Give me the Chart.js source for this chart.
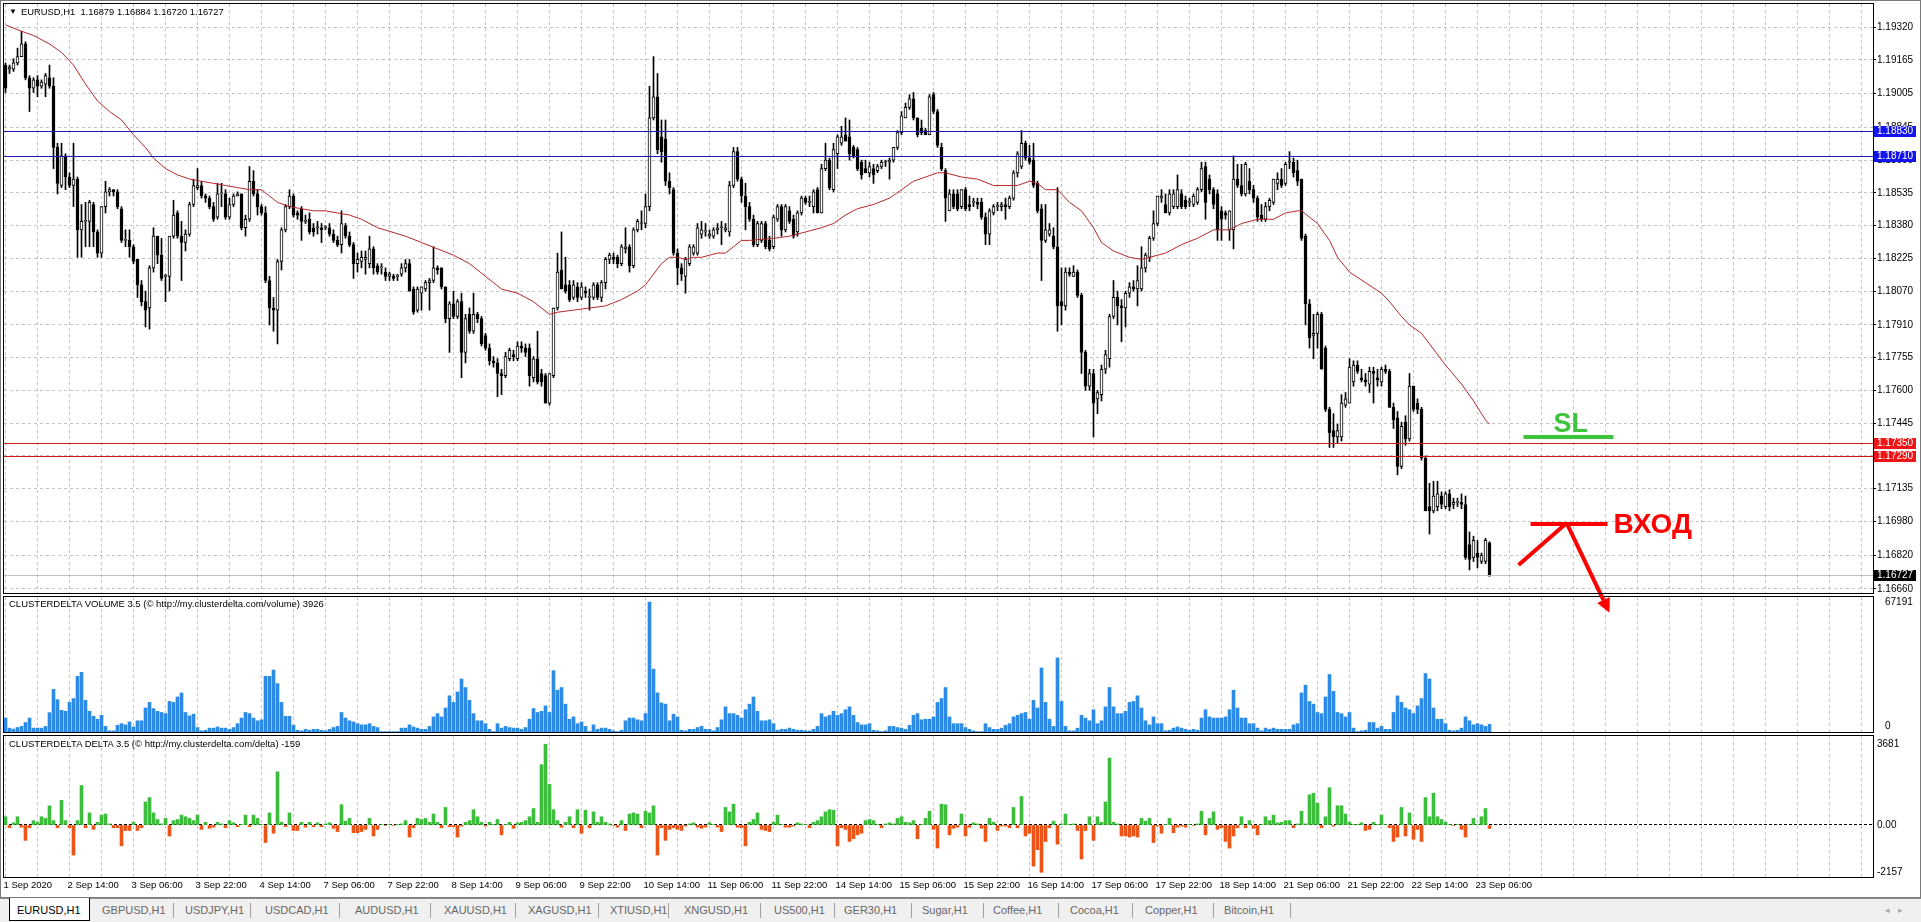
<!DOCTYPE html>
<html><head><meta charset="utf-8">
<script src="https://cdn.jsdelivr.net/npm/chart.js@4.4.1/dist/chart.umd.min.js"></script>
<style>
html,body{margin:0;padding:0;width:1921px;height:922px;overflow:hidden;background:#fff;font-family:'Liberation Sans',Arial,sans-serif;}
canvas{position:absolute;left:0;top:0;}
.t{position:absolute;white-space:pre;font-size:9.5px;line-height:12px;color:#000;z-index:5;}
#tabbar{position:absolute;left:0;top:898px;width:1921px;height:24px;background:#f0f0f0;border-top:1px solid #8c8c8c;z-index:4;}
.tab{position:absolute;top:5px;font-size:11px;line-height:13px;color:#666;white-space:pre;}
.sep{position:absolute;top:4px;width:1px;height:15px;background:#a0a0a0;}
#active{position:absolute;left:9px;top:-1px;width:79px;height:22px;background:#fff;border:1px solid #000;border-top:none;}
#frame{position:absolute;left:0;top:0;width:1919px;height:896px;border:1px solid #7a7a7a;z-index:6;pointer-events:none;}
</style></head><body>
<canvas id="cVol" width="1921" height="922"></canvas>
<canvas id="cDelta" width="1921" height="922"></canvas>
<canvas id="cMain" width="1921" height="922"></canvas>
<div class="t" style="left:9px;top:6px;font-size:8px;">▼</div>
<div class="t" id="hdr" style="left:21px;top:6px;font-size:9.4px;"></div>
<div class="t" id="volLbl" style="left:9px;top:598px;"></div>
<div class="t" id="dltLbl" style="left:9px;top:738px;"></div>
<div id="frame"></div>
<div id="tabbar"><div id="active"></div></div>
<script>
// ---------------- DATA ----------------
const priceTicks = [1.19320,1.19165,1.19005,1.18845,1.18690,1.18535,1.18380,1.18225,1.18070,1.17910,1.17755,1.17600,1.17445,1.17290,1.17135,1.16980,1.16820,1.16660];
const timeLabels = ['1 Sep 2020','2 Sep 14:00','3 Sep 06:00','3 Sep 22:00','4 Sep 14:00','7 Sep 06:00','7 Sep 22:00','8 Sep 14:00','9 Sep 06:00','9 Sep 22:00','10 Sep 14:00','11 Sep 06:00','11 Sep 22:00','14 Sep 14:00','15 Sep 06:00','15 Sep 22:00','16 Sep 14:00','17 Sep 06:00','17 Sep 22:00','18 Sep 14:00','21 Sep 06:00','21 Sep 22:00','22 Sep 14:00','23 Sep 06:00'];
const timeLabelBars = [0,16,32,48,64,80,96,112,128,144,160,176,192,208,224,240,256,272,288,304,320,336,352,368];

const opens = [1.1914,1.1912,1.1912,1.1915,1.1918,1.1924,1.1908,1.1903,1.1907,1.1904,
1.1905,1.1908,1.1904,1.1875,1.1857,1.1871,1.1861,1.1857,1.1860,1.1836,
1.1840,1.1840,1.1848,1.1835,1.1825,1.1847,1.1854,1.1855,1.1854,1.1846,
1.1831,1.1831,1.1828,1.1822,1.1810,1.1802,1.1799,1.1818,1.1833,1.1824,
1.1814,1.1814,1.1833,1.1844,1.1833,1.1830,1.1834,1.1848,1.1856,1.1857,
1.1852,1.1851,1.1847,1.1842,1.1853,1.1853,1.1842,1.1848,1.1852,1.1853,
1.1837,1.1841,1.1859,1.1853,1.1847,1.1844,1.1812,1.1799,1.1798,1.1821,
1.1836,1.1847,1.1852,1.1844,1.1846,1.1840,1.1841,1.1837,1.1837,1.1837,
1.1837,1.1837,1.1834,1.1831,1.1829,1.1838,1.1833,1.1829,1.1820,1.1821,
1.1822,1.1820,1.1827,1.1819,
1.1818,1.1816,1.1814,1.1814,1.1814,1.1815,1.1818,1.1820,1.1808,1.1798,
1.1806,1.1808,1.1811,1.1812,1.1818,1.1818,1.1809,1.1794,1.1801,1.1795,
1.1802,1.1778,1.1796,1.1788,1.1796,1.1794,1.1786,1.1780,1.1774,1.1773,
1.1768,1.1767,1.1775,1.1777,1.1775,1.1781,1.1780,1.1780,1.1766,1.1775,
1.1768,1.1767,1.1754,1.1767,1.1799,1.1817,1.1810,1.1810,1.1804,1.1809,
1.1804,1.1807,1.1804,1.1804,1.1810,1.1804,1.1811,1.1822,1.1823,1.1823,
1.1820,1.1827,1.1828,1.1819,1.1836,1.1839,1.1839,1.1847,1.1889,1.1899,
1.1880,1.1879,1.1859,1.1855,1.1825,1.1818,1.1814,1.1820,1.1825,1.1825,
1.1834,1.1835,1.1833,1.1833,1.1836,1.1837,1.1836,1.1835,1.1857,1.1873,
1.1860,1.1852,1.1847,
1.1841,1.1829,1.1831,1.1839,1.1831,1.1828,1.1841,1.1847,1.1836,1.1845,
1.1841,1.1835,1.1844,1.1851,1.1849,1.1847,1.1855,1.1844,1.1865,1.1869,
1.1855,1.1872,1.1877,1.1881,1.1880,1.1875,1.1874,1.1868,1.1865,1.1863,
1.1865,1.1864,1.1866,1.1868,1.1868,1.1869,1.1875,1.1882,1.1889,1.1894,
1.1898,1.1889,1.1884,1.1883,1.1881,1.1900,1.1892,1.1875,1.1864,1.1845,
1.1853,1.1853,1.1847,1.1855,1.1848,1.1849,1.1849,1.1849,1.1842,1.1834,
1.1844,1.1847,1.1847,1.1848,1.1847,1.1851,1.1863,1.1866,1.1877,1.1870,
1.1869,1.1858,1.1846,1.1831,1.1834,1.1833,1.1828,1.1802,1.1800,1.1816,
1.1814,1.1816,1.1805,1.1778,1.1762,1.1768,1.1756,1.1758,1.1770,1.1775,
1.1795,1.1804,
1.1800,1.1799,1.1806,1.1809,1.1808,1.1808,1.1818,1.1823,1.1832,1.1839,
1.1851,1.1848,1.1844,1.1847,1.1847,1.1853,1.1850,1.1849,1.1848,1.1849,
1.1855,1.1866,1.1860,1.1855,1.1853,1.1845,1.1844,1.1836,1.1836,1.1860,
1.1857,1.1853,1.1859,1.1855,1.1851,1.1843,1.1841,1.1847,1.1849,1.1858,
1.1860,1.1858,1.1868,1.1868,1.1864,1.1860,1.1833,1.1801,1.1786,1.1787,
1.1796,1.1780,1.1751,1.1741,1.1738,1.1738,1.1753,1.1754,1.1764,1.1772,
1.1766,1.1765,1.1763,1.1769,1.1766,1.1764,1.1770,1.1769,1.1752,1.1747,
1.1724,1.1745,1.1737,1.1762,1.1754,1.1751,1.1728,1.1705,1.1703,1.1705,
1.1710,1.1705,1.1711,1.1706,1.1707,1.1707,1.1706,1.1687,1.1681,1.1683,
1.1679,1.1679,1.16879];

const highs = [1.1915,1.1914,1.1917,1.1922,1.1930,1.1925,1.1909,1.1908,1.1909,1.1907,
1.1910,1.1914,1.1908,1.1877,1.1877,1.1872,1.1863,1.1877,1.1861,1.1848,
1.1849,1.1850,1.1849,1.1836,1.1847,1.1859,1.1856,1.1855,1.1855,1.1847,
1.1836,1.1836,1.1829,1.1822,1.1812,1.1807,1.1819,1.1837,1.1833,1.1832,
1.1815,1.1833,1.1850,1.1845,1.1840,1.1836,1.1849,1.1860,1.1865,1.1859,
1.1853,1.1852,1.1849,1.1858,1.1858,1.1855,1.1851,1.1853,1.1854,1.1853,
1.1843,1.1866,1.1864,1.1855,1.1848,1.1847,1.1814,1.1804,1.1822,1.1837,
1.1848,1.1855,1.1853,1.1845,1.1847,1.1843,1.1844,1.1839,1.1840,1.1839,
1.1838,1.1839,1.1836,1.1833,1.1845,1.1839,1.1835,1.1830,1.1825,1.1826,
1.1826,1.1833,1.1828,1.1820,
1.1820,1.1818,1.1816,1.1815,1.1815,1.1820,1.1822,1.1822,1.1809,1.1809,
1.1809,1.1812,1.1813,1.1828,1.1819,1.1818,1.1809,1.1802,1.1807,1.1803,
1.1806,1.1796,1.1799,1.1806,1.1797,1.1795,1.1787,1.1782,1.1776,1.1775,
1.1770,1.1778,1.1780,1.1779,1.1783,1.1783,1.1782,1.1782,1.1776,1.1788,
1.1770,1.1768,1.1768,1.1799,1.1825,1.1835,1.1823,1.1812,1.1812,1.1811,
1.1811,1.1809,1.1808,1.1811,1.1811,1.1812,1.1823,1.1825,1.1825,1.1824,
1.1829,1.1837,1.1829,1.1837,1.1841,1.1845,1.1853,1.1904,1.1918,1.1910,
1.1888,1.1888,1.1863,1.1856,1.1827,1.1820,1.1823,1.1829,1.1829,1.1839,
1.1840,1.1839,1.1836,1.1837,1.1839,1.1840,1.1839,1.1859,1.1875,1.1875,
1.1861,1.1858,1.1849,
1.1843,1.1840,1.1840,1.1840,1.1833,1.1843,1.1848,1.1848,1.1848,1.1847,
1.1843,1.1845,1.1852,1.1852,1.1852,1.1855,1.1856,1.1867,1.1877,1.1870,
1.1877,1.1881,1.1885,1.1889,1.1888,1.1876,1.1875,1.1869,1.1869,1.1868,
1.1867,1.1867,1.1869,1.1869,1.1870,1.1875,1.1883,1.1892,1.1896,1.1900,
1.1901,1.1889,1.1888,1.1884,1.1900,1.1901,1.1893,1.1877,1.1865,1.1855,
1.1855,1.1855,1.1855,1.1856,1.1852,1.1851,1.1851,1.1851,1.1844,1.1846,
1.1848,1.1849,1.1849,1.1851,1.1852,1.1864,1.1873,1.1883,1.1878,1.1876,
1.1877,1.1859,1.1848,1.1848,1.1839,1.1837,1.1856,1.1818,1.1818,1.1818,
1.1819,1.1817,1.1806,1.1779,1.1770,1.1770,1.1760,1.1772,1.1779,1.1796,
1.1812,1.1807,
1.1803,1.1807,1.1811,1.1812,1.1819,1.1828,1.1825,1.1833,1.1845,1.1852,
1.1855,1.1853,1.1855,1.1855,1.1862,1.1855,1.1852,1.1851,1.1853,1.1856,
1.1868,1.1868,1.1862,1.1856,1.1855,1.1847,1.1845,1.1845,1.1871,1.1867,
1.1867,1.1868,1.1865,1.1857,1.1852,1.1848,1.1849,1.1851,1.1860,1.1863,
1.1865,1.1868,1.1873,1.1870,1.1869,1.1860,1.1834,1.1803,1.1796,1.1797,
1.1797,1.1781,1.1752,1.1749,1.1744,1.1758,1.1759,1.1775,1.1774,1.1774,
1.1770,1.1768,1.1771,1.1771,1.1770,1.1771,1.1772,1.1770,1.1754,1.1750,
1.1745,1.1748,1.1768,1.1762,1.1756,1.1752,1.1729,1.1716,1.1717,1.1717,
1.1712,1.1712,1.1713,1.1709,1.1709,1.1711,1.1710,1.1693,1.1691,1.1689,
1.1683,1.1690,1.16884];

const lows = [1.1901,1.1910,1.1911,1.1914,1.1918,1.1907,1.1892,1.1901,1.1899,1.1903,
1.1899,1.1903,1.1865,1.1853,1.1856,1.1855,1.1856,1.1847,1.1823,1.1823,
1.1828,1.1828,1.1828,1.1823,1.1823,1.1844,1.1852,1.1852,1.1846,1.1830,
1.1828,1.1823,1.1820,1.1804,1.1800,1.1790,1.1789,1.1816,1.1820,1.1812,
1.1802,1.1807,1.1832,1.1832,1.1812,1.1826,1.1833,1.1847,1.1855,1.1851,
1.1849,1.1846,1.1840,1.1841,1.1847,1.1841,1.1841,1.1847,1.1852,1.1836,
1.1833,1.1840,1.1852,1.1843,1.1843,1.1811,1.1791,1.1788,1.1782,1.1817,
1.1835,1.1846,1.1842,1.1841,1.1831,1.1839,1.1834,1.1833,1.1834,1.1830,
1.1836,1.1833,1.1830,1.1828,1.1825,1.1832,1.1828,1.1813,1.1816,1.1818,
1.1815,1.1818,1.1815,1.1815,
1.1815,1.1812,1.1812,1.1812,1.1812,1.1814,1.1816,1.1807,1.1796,1.1797,
1.1798,1.1807,1.1798,1.1811,1.1815,1.1808,1.1792,1.1778,1.1794,1.1794,
1.1766,1.1773,1.1787,1.1787,1.1792,1.1781,1.1779,1.1772,1.1771,1.1757,
1.1758,1.1766,1.1774,1.1774,1.1774,1.1778,1.1776,1.1762,1.1764,1.1763,
1.1762,1.1754,1.1753,1.1766,1.1798,1.1808,1.1806,1.1802,1.1803,1.1802,
1.1803,1.1804,1.1798,1.1803,1.1803,1.1802,1.1808,1.1820,1.1820,1.1818,
1.1819,1.1825,1.1816,1.1818,1.1835,1.1836,1.1837,1.1845,1.1888,1.1872,
1.1868,1.1857,1.1853,1.1824,1.1810,1.1812,1.1806,1.1819,1.1824,1.1824,
1.1832,1.1833,1.1832,1.1832,1.1834,1.1829,1.1835,1.1833,1.1856,1.1859,
1.1849,1.1836,1.1840,
1.1828,1.1828,1.1830,1.1827,1.1826,1.1827,1.1840,1.1833,1.1835,1.1839,
1.1832,1.1833,1.1843,1.1848,1.1847,1.1844,1.1844,1.1844,1.1864,1.1855,
1.1854,1.1865,1.1876,1.1878,1.1869,1.1870,1.1864,1.1860,1.1863,1.1861,
1.1858,1.1863,1.1865,1.1866,1.1860,1.1868,1.1874,1.1881,1.1889,1.1893,
1.1888,1.1880,1.1881,1.1881,1.1881,1.1891,1.1875,1.1864,1.1840,1.1845,
1.1846,1.1845,1.1846,1.1845,1.1845,1.1847,1.1846,1.1841,1.1829,1.1829,
1.1843,1.1845,1.1845,1.1841,1.1846,1.1850,1.1861,1.1865,1.1869,1.1867,
1.1856,1.1844,1.1812,1.1830,1.1833,1.1827,1.1788,1.1791,1.1798,1.1814,
1.1814,1.1804,1.1768,1.1760,1.1760,1.1738,1.1749,1.1755,1.1768,1.1771,
1.1794,1.1791,
1.1783,1.1790,1.1804,1.1807,1.1800,1.1807,1.1816,1.1821,1.1831,1.1838,
1.1849,1.1844,1.1843,1.1846,1.1846,1.1846,1.1846,1.1847,1.1847,1.1848,
1.1854,1.1841,1.1853,1.1846,1.1831,1.1831,1.1841,1.1831,1.1827,1.1856,
1.1852,1.1852,1.1853,1.1849,1.1840,1.1840,1.1840,1.1845,1.1848,1.1855,
1.1856,1.1857,1.1865,1.1861,1.1857,1.1831,1.1791,1.1780,1.1775,1.1780,
1.1770,1.1750,1.1733,1.1733,1.1735,1.1736,1.1752,1.1754,1.1762,1.1768,
1.1764,1.1762,1.1759,1.1754,1.1762,1.1762,1.1768,1.1752,1.1742,1.1720,
1.1723,1.1734,1.1736,1.1750,1.1749,1.1727,1.1703,1.1692,1.1702,1.1703,
1.1704,1.1704,1.1703,1.1704,1.1705,1.1704,1.1680,1.1675,1.1679,1.1676,
1.1678,1.1678,1.16720];

const closes = [1.1903,1.1913,1.1915,1.1918,1.1924,1.1908,1.1903,1.1907,1.1904,1.1906,
1.1909,1.1904,1.1875,1.1858,1.1871,1.1861,1.1857,1.1860,1.1836,1.1840,
1.1840,1.1849,1.1835,1.1825,1.1847,1.1854,1.1855,1.1854,1.1847,1.1831,
1.1831,1.1828,1.1821,1.1810,1.1802,1.1798,1.1818,1.1833,1.1824,1.1813,
1.1814,1.1833,1.1843,1.1833,1.1830,1.1834,1.1848,1.1857,1.1857,1.1852,
1.1851,1.1847,1.1841,1.1853,1.1853,1.1842,1.1848,1.1852,1.1853,1.1837,
1.1841,1.1859,1.1853,1.1847,1.1844,1.1812,1.1799,1.1798,1.1821,1.1836,
1.1847,1.1852,1.1843,1.1843,1.1840,1.1840,1.1835,1.1835,1.1837,1.1836,
1.1837,1.1834,1.1831,1.1829,1.1839,1.1833,1.1829,1.1820,1.1822,1.1823,
1.1823,1.1827,1.1818,1.1816,
1.1818,1.1814,1.1815,1.1813,1.1814,1.1818,1.1820,1.1807,1.1797,1.1808,
1.1809,1.1811,1.1812,1.1818,1.1817,1.1809,1.1794,1.1801,1.1795,1.1802,
1.1778,1.1794,1.1788,1.1796,1.1794,1.1782,1.1780,1.1774,1.1773,1.1768,
1.1767,1.1776,1.1779,1.1776,1.1781,1.1780,1.1778,1.1767,1.1775,1.1764,
1.1764,1.1754,1.1768,1.1799,1.1816,1.1808,1.1807,1.1803,1.1810,1.1804,
1.1809,1.1806,1.1804,1.1810,1.1804,1.1811,1.1822,1.1824,1.1822,1.1820,
1.1828,1.1828,1.1819,1.1836,1.1840,1.1839,1.1847,1.1889,1.1899,1.1874,
1.1873,1.1859,1.1856,1.1825,1.1818,1.1815,1.1822,1.1828,1.1828,1.1837,
1.1836,1.1835,1.1834,1.1836,1.1837,1.1837,1.1837,1.1857,1.1873,1.1860,
1.1852,1.1847,1.1841,
1.1829,1.1839,1.1839,1.1828,1.1827,1.1842,1.1847,1.1836,1.1847,1.1840,
1.1833,1.1844,1.1851,1.1849,1.1849,1.1854,1.1844,1.1865,1.1869,1.1856,
1.1874,1.1880,1.1880,1.1878,1.1872,1.1871,1.1865,1.1862,1.1863,1.1866,
1.1862,1.1866,1.1868,1.1868,1.1869,1.1875,1.1882,1.1890,1.1894,1.1898,
1.1889,1.1881,1.1882,1.1881,1.1899,1.1892,1.1876,1.1865,1.1851,1.1853,
1.1847,1.1846,1.1855,1.1846,1.1847,1.1849,1.1848,1.1842,1.1834,1.1845,
1.1847,1.1847,1.1848,1.1847,1.1851,1.1863,1.1872,1.1877,1.1870,1.1868,
1.1857,1.1845,1.1831,1.1836,1.1836,1.1828,1.1800,1.1800,1.1816,1.1815,
1.1816,1.1805,1.1778,1.1762,1.1768,1.1754,1.1759,1.1770,1.1777,1.1795,
1.1804,1.1800,
1.1799,1.1806,1.1809,1.1808,1.1812,1.1818,1.1824,1.1832,1.1839,1.1852,
1.1852,1.1844,1.1853,1.1853,1.1855,1.1847,1.1847,1.1849,1.1852,1.1855,
1.1865,1.1849,1.1855,1.1848,1.1836,1.1841,1.1843,1.1845,1.1860,1.1857,
1.1853,1.1867,1.1855,1.1851,1.1842,1.1841,1.1847,1.1850,1.1860,1.1860,
1.1857,1.1867,1.1868,1.1863,1.1859,1.1832,1.1801,1.1785,1.1787,1.1796,
1.1770,1.1751,1.1740,1.1738,1.1741,1.1754,1.1756,1.1771,1.1772,1.1769,
1.1765,1.1764,1.1769,1.1768,1.1765,1.1770,1.1769,1.1752,1.1746,1.1724,
1.1743,1.1737,1.1762,1.1751,1.1751,1.1728,1.1703,1.1703,1.1710,1.1711,
1.1706,1.1711,1.1705,1.1707,1.1707,1.1706,1.1681,1.1680,1.1689,1.1681,
1.1682,1.1689,1.16727];

const maBars = [0,4,7,11,14,17,20,23,26,29,32,35,37,40,43,46,49,52,55,58,61,64,66,68,71,74,77,80,83,86,89,93,
100,104,108,112,116,120,124,128,132,136,138,142,146,150,154,158,160,162,164,166,168,170,172,174,178,180,182,184,186,
192,196,200,204,207,210,213,217,221,224,227,230,233,235,239,243,247,250,253,256,258,260,263,266,269,272,274,277,
281,284,286,290,294,298,302,306,309,313,317,320,323,324,328,331,333,336,340,344,346,349,351,354,356,360,364,367,370,371];
const maValues = [1.1933,1.1930,1.1928,1.1924,1.1920,1.1914,1.1905,1.1897,1.1892,1.1888,1.1881,1.1875,1.1870,1.1865,1.1862,1.1860,1.1859,1.1858,1.1857,1.1856,1.1855,1.1855,1.1852,1.1849,1.1847,1.1846,1.1845,1.1845,1.1844,1.1843,1.1841,1.1837,
1.1833,1.1830,1.1827,1.1824,1.1820,1.1814,1.1808,1.1806,1.1802,1.1796,1.1797,1.1798,1.1799,1.1800,1.1803,1.1807,1.1810,1.1815,1.1820,1.1823,1.1823,1.1822,1.1823,1.1823,1.1825,1.1825,1.1828,1.1831,1.1831,
1.1832,1.1833,1.1835,1.1837,1.1839,1.1843,1.1846,1.1848,1.1851,1.1855,1.1859,1.1861,1.1863,1.1863,1.1861,1.1860,1.1857,1.1857,1.1857,1.1859,1.1858,1.1855,1.1855,1.1849,1.1845,1.1837,1.1830,1.1826,
1.1823,1.1822,1.1823,1.1825,1.1829,1.1832,1.1836,1.1836,1.1839,1.1841,1.1841,1.1844,1.1845,1.1845,1.1839,1.1831,1.1823,1.1816,1.1811,1.1806,1.1802,1.1795,1.1791,1.1787,1.1782,1.1772,1.1763,1.1755,1.1746,1.1744];

const volumes = [7200,2000,1500,2300,2900,4900,7200,2000,2000,2000,
2900,10000,22000,16700,11200,10700,15300,17300,28800,30800,
16400,10700,8100,6600,8600,2900,600,600,3500,4300,
3700,5200,2600,5800,5800,12400,15300,12100,10700,10100,
9500,15800,15300,18100,20200,10100,8400,9200,2300,600,
900,2000,2000,2600,2000,2000,1400,2300,4300,7200,
10100,9500,7200,5800,6300,28800,28800,32000,25000,15300,
8100,8100,3500,900,600,1400,900,1400,1400,900,
600,1400,2300,2900,10100,7200,5800,5200,4300,3700,
3700,4300,2900,2300,
200,200,200,200,200,2000,
2000,3700,2600,2000,1400,1400,2900,7800,9500,7800,
12400,18700,15300,20700,27400,23000,16400,9500,5800,5800,
4300,1400,200,4300,2000,2900,2300,2000,2000,1400,
2300,6600,12100,10100,10700,13500,10100,31700,21600,23000,
14400,6600,7800,4300,5200,2900,200,3700,1400,2000,
2000,1400,600,200,900,5800,7200,7200,6300,5800,
9500,67191,32500,20200,15000,14400,5800,9200,7800,900,
600,1400,1400,2300,2900,1400,1400,600,2300,6300,
13000,9500,9500,8600,7200,11500,14400,
18100,10700,5800,5800,6300,4300,900,1400,1400,2000,1400,900,900,
600,600,1400,2900,9500,7800,8600,10700,8600,9500,
11500,13000,8600,4900,3700,3700,4300,900,600,200,
600,2900,2900,2300,2000,1400,3500,8600,9500,6300,
6600,6600,7800,15300,17300,23000,7800,4300,4300,4300,
2300,1400,600,200,200,4300,2300,1400,1400,2000,
3500,4300,7800,8600,9500,10100,6600,16400,12400,33100,
15300,6600,2900,38300,15800,2900,600,600,2000,8600,
7200,5800,11500,4300,5800,13000,23000,13000,9500,
9500,10700,15300,15800,18700,12400,5800,3700,7800,4300,4300,
600,900,2000,2600,2000,1400,900,1400,900,7200,
11500,7800,7200,7200,7200,7800,11500,21600,12400,7200,
7200,4300,4300,2000,600,2000,1400,2000,1400,1400,
1400,1400,3700,4300,20200,24200,15800,14400,10100,9500,
18100,29700,21000,10100,9500,7800,10100,2000,200,600,
900,4900,4900,2000,2900,1400,1400,10100,18700,15300,
12400,11500,9500,13500,17300,30200,27400,12400,6600,6600,
4300,900,600,900,2000,7800,5800,3700,4300,3700,2900,3926];

const deltas = [375,-125,100,375,-100,-700,-125,200,125,375,
300,875,200,-125,1125,200,-125,-1375,200,1800,
-125,550,-200,125,450,500,50,-125,-125,-950,
-250,-250,125,-250,-125,1050,1250,550,250,50,
300,-500,200,250,450,375,300,200,450,-200,
125,-150,-100,125,50,-125,200,100,-75,30,
450,-75,450,300,30,-800,550,-375,2425,125,
-75,550,-250,-250,125,-100,125,-75,100,-75,
50,100,-150,-300,925,175,300,-350,-350,-300,
-200,300,-500,-200,
25,-25,25,-25,25,50,
200,-550,-125,300,250,300,125,500,125,-125,
800,-75,-75,-550,-50,125,200,700,375,125,
-50,125,25,250,-450,25,125,-150,100,125,
200,375,750,125,2750,3681,1850,700,200,-100,
125,375,-125,700,-375,675,-125,600,125,375,
125,50,-25,-100,200,-250,500,550,500,-125,
625,550,875,-1375,-125,-700,-200,-125,-200,-250,
-50,50,100,-100,-150,-100,100,25,-100,-300,
800,600,950,-100,-125,-950,125,
250,550,-200,-250,-300,125,450,25,-100,-100,-50,100,50,
25,-125,125,200,375,600,700,675,-950,-125,
-200,-750,-625,-450,-375,200,250,200,25,-125,
50,100,50,300,375,125,100,200,-625,25,
300,625,-200,-1050,950,925,-450,-150,-100,500,
-500,-100,100,50,-150,-750,300,125,-250,-50,
-50,-125,800,-125,1300,-500,-375,-1875,-1125,-2157,
-750,-125,175,-875,50,500,25,50,-250,-1550,
-250,375,-700,375,125,1050,3050,125,50,
-500,-500,-550,-500,-550,300,175,300,-800,-50,-375,
25,300,-350,-100,-50,-100,25,-25,50,625,
-450,300,600,-200,-125,-750,-1050,-500,-125,375,
-125,200,-150,-450,25,375,200,450,100,125,
200,200,-125,50,625,50,1375,1450,1000,-125,
375,1700,-50,875,875,500,125,25,25,100,
-250,-200,125,25,450,25,-125,-750,-550,800,
-500,550,-650,-200,-750,1250,375,1450,375,250,
125,25,-25,25,-200,-550,25,300,25,375,750,-159];

const levels = [
  {price: 1.18830, line: '#1c1cb4', box: '#1414f0', text: '#fff'},
  {price: 1.18710, line: '#1c1cb4', box: '#1414f0', text: '#fff'},
  {price: 1.17350, line: '#d01818', box: '#f01414', text: '#fff'},
  {price: 1.17290, line: '#d01818', box: '#f01414', text: '#fff'},
  {price: 1.16727, line: '#c0c0c0', box: '#000000', text: '#fff'}
];
const volumeTicks = [67191, 0];
const deltaTicks = [3681, 0, -2157];
const headerText = 'EURUSD,H1  1.16879 1.16884 1.16720 1.16727';
const volumeTitle = 'CLUSTERDELTA VOLUME 3.5 (\u00a9 http://my.clusterdelta.com/volume) 3926';
const deltaTitle = 'CLUSTERDELTA DELTA 3.5 (\u00a9 http://my.clusterdelta.com/delta) -159';
const tabNames = ['EURUSD,H1','GBPUSD,H1','USDJPY,H1','USDCAD,H1','AUDUSD,H1','XAUUSD,H1','XAGUSD,H1','XTIUSD,H1','XNGUSD,H1','US500,H1','GER30,H1','Sugar,H1','Coffee,H1','Cocoa,H1','Copper,H1','Bitcoin,H1'];

// drawn objects on the chart (bar index, price)
const drawings = {
  slLine: {from: 379.5, to: 402, price: 1.17379},
  slText: {bar: 391.3, price: 1.17436, text: 'SL'},
  entryLeg: [[378.25, 1.16774], [390, 1.16968]],
  entryLine: {from: 381.25, to: 400.5, price: 1.16968},
  arrow: {from: [390.5, 1.16963], to: [401, 1.16548]},
  entryText: {bar: 402, price: 1.16968, text: 'ВХОД'}
};

// ---------------- LAYOUT / STYLE ----------------
const FONT = "'Liberation Sans', Arial, sans-serif";
const GRID = '#c4c4c4';
const X_MIN = -0.375, X_MAX = 466.875;
const AXIS_W = 48;
const gridBars = []; for (let b = 0; b <= X_MAX; b += 8) gridBars.push(b);
const bars = opens.map((_, i) => i);

document.getElementById('hdr').textContent = headerText;
document.getElementById('volLbl').textContent = volumeTitle;
document.getElementById('dltLbl').textContent = deltaTitle;
(function(){
  const tb = document.getElementById('tabbar');
  const tabX = [17,102,185,265,355,444,528,610,684,774,844,922,993,1070,1145,1224];
  const sepX = [173,250,339,430,515,598,668,760,834,911,983,1058,1132,1213,1290];
  tabNames.forEach((n,k)=>{const d=document.createElement('div');d.className='tab';d.style.left=tabX[k]+'px';d.textContent=n;if(k===0)d.style.color='#000';tb.appendChild(d);});
  sepX.forEach(x=>{const d=document.createElement('div');d.className='sep';d.style.left=x+'px';tb.appendChild(d);});
  const a=document.createElement('div');a.className='tab';a.style.left='1885px';a.style.color='#a8a8a8';a.style.fontSize='9px';a.textContent='\u25C2   \u25B8';tb.appendChild(a);
})();

function zeroPad(s){ s.paddingLeft = 0; s.paddingRight = 0; s.paddingTop = 0; s.paddingBottom = 0; }

function xAxis(height, labels) {
  return {
    type: 'linear', min: X_MIN, max: X_MAX, offset: false,
    afterBuildTicks: s => { s.ticks = gridBars.map(v => ({value: v})); },
    afterFit: s => { s.height = height; zeroPad(s); },
    grid: {color: GRID, drawTicks: false, offset: false, lineWidth: 1},
    border: {display: false, dash: [3, 3]},
    ticks: labels ? {
      display: true, autoSkip: false, maxRotation: 0, minRotation: 0, align: 'start',
      padding: 3, labelOffset: -2, color: '#000', font: {family: FONT, size: 9.5},
      callback: v => { const k = timeLabelBars.indexOf(v); return k >= 0 ? timeLabels[k] : ''; }
    } : {display: false}
  };
}

const boxPlugin = {
  id: 'panelBox',
  afterDraw(chart) {
    const a = chart.chartArea, c = chart.ctx;
    c.save(); c.strokeStyle = '#000'; c.lineWidth = 1;
    c.strokeRect(a.left - 0.5, a.top - 0.5, a.right - a.left + 1, a.bottom - a.top + 1);
    c.restore();
  }
};

const levelPlugin = {
  id: 'levels',
  afterDatasetsDraw(chart) {
    const c = chart.ctx, a = chart.chartArea, y = chart.scales.y;
    c.save(); c.lineWidth = 1;
    levels.forEach(l => {
      const py = Math.round(y.getPixelForValue(l.price)) + 0.5;
      c.strokeStyle = l.line; c.beginPath(); c.moveTo(a.left, py); c.lineTo(a.right, py); c.stroke();
    });
    c.restore();
  },
  afterDraw(chart) {
    const c = chart.ctx, a = chart.chartArea, y = chart.scales.y, x = chart.scales.x;
    c.save();
    c.font = '10px ' + FONT; c.textBaseline = 'middle';
    levels.forEach(l => {
      const py = Math.round(y.getPixelForValue(l.price));
      c.fillStyle = l.box; c.fillRect(a.right + 1, py - 5, 42, 11);
      c.fillStyle = l.text; c.fillText(l.price.toFixed(5), a.right + 4, py + 0.5);
    });
    const px = b => x.getPixelForValue(b), py = p => y.getPixelForValue(p);
    const d = drawings;
    c.lineCap = 'butt';
    c.strokeStyle = '#3cc43c'; c.lineWidth = 4;
    c.beginPath(); c.moveTo(px(d.slLine.from), py(d.slLine.price)); c.lineTo(px(d.slLine.to), py(d.slLine.price)); c.stroke();
    c.fillStyle = '#3cc43c'; c.font = 'bold 27px ' + FONT; c.textAlign = 'center'; c.textBaseline = 'middle';
    c.fillText(d.slText.text, px(d.slText.bar), py(d.slText.price));
    c.strokeStyle = '#ff0000'; c.fillStyle = '#ff0000'; c.lineWidth = 4;
    c.beginPath(); c.moveTo(px(d.entryLeg[0][0]), py(d.entryLeg[0][1])); c.lineTo(px(d.entryLeg[1][0]), py(d.entryLeg[1][1])); c.stroke();
    c.beginPath(); c.moveTo(px(d.entryLine.from), py(d.entryLine.price)); c.lineTo(px(d.entryLine.to), py(d.entryLine.price)); c.stroke();
    const x0 = px(d.arrow.from[0]), y0 = py(d.arrow.from[1]), x1 = px(d.arrow.to[0]), y1 = py(d.arrow.to[1]);
    const ang = Math.atan2(y1 - y0, x1 - x0), hl = 14, hw = 7;
    const bx = x1 - hl * Math.cos(ang), by = y1 - hl * Math.sin(ang);
    c.beginPath(); c.moveTo(x0, y0); c.lineTo(bx, by); c.stroke();
    c.beginPath(); c.moveTo(x1, y1);
    c.lineTo(bx + hw * Math.sin(ang), by - hw * Math.cos(ang));
    c.lineTo(bx - hw * Math.sin(ang), by + hw * Math.cos(ang)); c.closePath(); c.fill();
    c.font = 'bold 28px ' + FONT; c.textAlign = 'left'; c.textBaseline = 'middle';
    c.fillText(d.entryText.text, px(d.entryText.bar), py(d.entryText.price) + 1);
    c.restore();
  }
};

const common = {responsive: false, animation: false, devicePixelRatio: 1, events: [],
  plugins: {legend: {display: false}, tooltip: {enabled: false}}};

// ---------------- MAIN PRICE CHART ----------------
new Chart(document.getElementById('cMain'), {
  type: 'bar',
  data: {datasets: [
    {type: 'line', order: 0, data: maBars.map((b, k) => ({x: b, y: maValues[k]})), borderColor: '#b42828', borderWidth: 1, pointRadius: 0, tension: 0, fill: false},
    {order: 1, grouped: false, barThickness: 3, minBarLength: 1, borderSkipped: false, borderWidth: 1, borderColor: '#000',
      data: bars.map(i => ({x: i, y: [Math.min(opens[i], closes[i]), Math.max(opens[i], closes[i])]})),
      backgroundColor: bars.map(i => closes[i] >= opens[i] ? '#ffffff' : '#000000')},
    {order: 2, grouped: false, barThickness: 1, borderWidth: 0, backgroundColor: '#000',
      data: bars.map(i => ({x: i, y: [Math.min(lows[i], opens[i], closes[i]), Math.max(highs[i], opens[i], closes[i])]}))}
  ]},
  options: Object.assign({}, common, {
    layout: {padding: {left: 4, top: 4, right: 0, bottom: 0}},
    scales: {
      x: xAxis(922 - 593, false),
      y: {type: 'linear', position: 'right', min: 1.16641, max: 1.19429,
        afterBuildTicks: s => { s.ticks = priceTicks.map(v => ({value: v})); },
        afterFit: s => { s.width = AXIS_W; zeroPad(s); },
        grid: {color: GRID, drawTicks: true, tickLength: 3, tickColor: '#000', tickWidth: 1},
        border: {display: false, dash: [3, 3]},
        ticks: {color: '#000', padding: 1, font: {family: FONT, size: 10}, callback: v => v.toFixed(5)}}
    }
  }),
  plugins: [levelPlugin, boxPlugin]
});

// ---------------- VOLUME ----------------
const VOL_TOP = 597, VOL_BOTTOM = 732;
const VOL_MAX = 69775;
new Chart(document.getElementById('cVol'), {
  type: 'bar',
  data: {datasets: [{grouped: false, barThickness: 3, borderWidth: 0, backgroundColor: '#2b8be6',
    data: bars.map(i => ({x: i, y: volumes[i]}))}]},
  options: Object.assign({}, common, {
    layout: {padding: {left: 4, top: VOL_TOP, right: 0, bottom: 0}},
    scales: {
      x: xAxis(922 - VOL_BOTTOM, false),
      y: {type: 'linear', position: 'right', min: 0, max: VOL_MAX,
        afterBuildTicks: s => { s.ticks = volumeTicks.map(v => ({value: v === 0 ? VOL_MAX * 6 / (VOL_BOTTOM - VOL_TOP) : v})); },
        afterFit: s => { s.width = AXIS_W; zeroPad(s); },
        grid: {display: false}, border: {display: false},
        ticks: {color: '#000', padding: 4, font: {family: FONT, size: 10},
          callback: (v, k) => String(volumeTicks[k])}}
    }
  }),
  plugins: [boxPlugin]
});

// ---------------- DELTA ----------------
new Chart(document.getElementById('cDelta'), {
  type: 'bar',
  data: {datasets: [{grouped: false, barThickness: 3, borderWidth: 0,
    backgroundColor: bars.map(i => deltas[i] >= 0 ? '#3cbe3c' : '#ec5418'),
    data: bars.map(i => ({x: i, y: deltas[i]}))}]},
  options: Object.assign({}, common, {
    layout: {padding: {left: 4, top: 736, right: 0, bottom: 0}},
    scales: {
      x: xAxis(922 - 877, true),
      y: {type: 'linear', position: 'right', min: -2371, max: 4058,
        afterBuildTicks: s => { s.ticks = deltaTicks.map(v => ({value: v})); },
        afterFit: s => { s.width = AXIS_W; zeroPad(s); },
        grid: {drawTicks: false, color: c => (c.tick && c.tick.value === 0) ? '#000' : 'rgba(0,0,0,0)'},
        border: {display: false, dash: [3, 2]},
        ticks: {color: '#000', padding: 4, font: {family: FONT, size: 10},
          callback: v => v === 0 ? '0.00' : String(v)}}
    }
  }),
  plugins: [boxPlugin]
});
</script>
</body></html>
